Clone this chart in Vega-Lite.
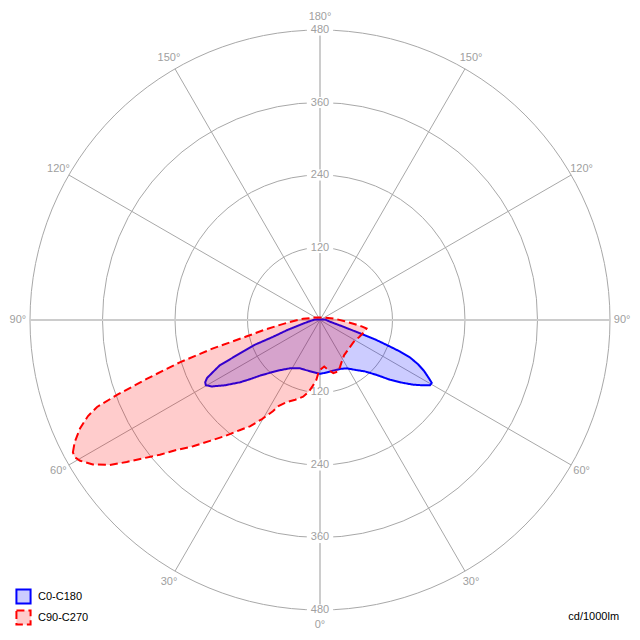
{
  "$schema": "https://vega.github.io/schema/vega-lite/v6.json",
  "width": 640,
  "height": 640,
  "padding": 0,
  "autosize": {"type": "none"},
  "background": "white",
  "datasets": {
    "rings": [{"r": 120}, {"r": 240}, {"r": 360}, {"r": 480}],
    "spokes": [
      {"x0": 0, "y0": 0, "x1": 240, "y1": -415.7},
      {"x0": 0, "y0": 0, "x1": -240, "y1": -415.7},
      {"x0": 0, "y0": 0, "x1": 415.7, "y1": -240},
      {"x0": 0, "y0": 0, "x1": -415.7, "y1": -240},
      {"x0": 0, "y0": 0, "x1": 415.7, "y1": 240},
      {"x0": 0, "y0": 0, "x1": -415.7, "y1": 240},
      {"x0": 0, "y0": 0, "x1": 240, "y1": 415.7},
      {"x0": 0, "y0": 0, "x1": -240, "y1": 415.7}
    ],
    "axes": [
      {"x0": 0, "y0": -480, "x1": 0, "y1": 480},
      {"x0": -480, "y0": 0, "x1": 480, "y1": 0}
    ],
    "valueLabels": [
      {"x": 0, "y": 120, "t": "120"}, {"x": 0, "y": 240, "t": "240"},
      {"x": 0, "y": 360, "t": "360"}, {"x": 0, "y": 480, "t": "480"},
      {"x": 0, "y": -120, "t": "120"}, {"x": 0, "y": -240, "t": "240"},
      {"x": 0, "y": -360, "t": "360"}, {"x": 0, "y": -480, "t": "480"}
    ],
    "angleLabels": [
      {"x": 0, "y": -505, "t": "0°"},
      {"x": 250, "y": -433, "t": "30°"}, {"x": -250, "y": -433, "t": "30°"},
      {"x": 433, "y": -250, "t": "60°"}, {"x": -433, "y": -250, "t": "60°"},
      {"x": 500, "y": 0, "t": "90°"}, {"x": -500, "y": 0, "t": "90°"},
      {"x": 433, "y": 250, "t": "120°"}, {"x": -433, "y": 250, "t": "120°"},
      {"x": 250, "y": 433, "t": "150°"}, {"x": -250, "y": 433, "t": "150°"},
      {"x": 0, "y": 502, "t": "180°"}
    ],
    "unit": [{"x": 495, "y": -491.6, "t": "cd/1000lm"}],
    "curves": [
      {"s": "C0-C180", "i": 1, "x": -8, "y": 1},
      {"s": "C0-C180", "i": 2, "x": 8, "y": 1},
      {"s": "C0-C180", "i": 3, "x": 17, "y": -3},
      {"s": "C0-C180", "i": 4, "x": 41, "y": -12},
      {"s": "C0-C180", "i": 5, "x": 66, "y": -22},
      {"s": "C0-C180", "i": 6, "x": 91, "y": -32},
      {"s": "C0-C180", "i": 7, "x": 116, "y": -44},
      {"s": "C0-C180", "i": 8, "x": 132, "y": -52},
      {"s": "C0-C180", "i": 9, "x": 149, "y": -62},
      {"s": "C0-C180", "i": 10, "x": 162, "y": -73},
      {"s": "C0-C180", "i": 11, "x": 172, "y": -84},
      {"s": "C0-C180", "i": 12, "x": 180, "y": -96},
      {"s": "C0-C180", "i": 13, "x": 185, "y": -104},
      {"s": "C0-C180", "i": 14, "x": 182, "y": -108},
      {"s": "C0-C180", "i": 15, "x": 170, "y": -108},
      {"s": "C0-C180", "i": 16, "x": 154, "y": -107},
      {"s": "C0-C180", "i": 17, "x": 137, "y": -104},
      {"s": "C0-C180", "i": 18, "x": 116, "y": -99},
      {"s": "C0-C180", "i": 19, "x": 94, "y": -91},
      {"s": "C0-C180", "i": 20, "x": 74, "y": -85},
      {"s": "C0-C180", "i": 21, "x": 61, "y": -83},
      {"s": "C0-C180", "i": 22, "x": 44, "y": -80},
      {"s": "C0-C180", "i": 23, "x": 33, "y": -81},
      {"s": "C0-C180", "i": 24, "x": 21, "y": -84},
      {"s": "C0-C180", "i": 25, "x": 11, "y": -87},
      {"s": "C0-C180", "i": 26, "x": 0, "y": -89},
      {"s": "C0-C180", "i": 27, "x": -12, "y": -86},
      {"s": "C0-C180", "i": 28, "x": -23, "y": -83},
      {"s": "C0-C180", "i": 29, "x": -33, "y": -80},
      {"s": "C0-C180", "i": 30, "x": -50, "y": -80},
      {"s": "C0-C180", "i": 31, "x": -66, "y": -83},
      {"s": "C0-C180", "i": 32, "x": -78, "y": -86},
      {"s": "C0-C180", "i": 33, "x": -99, "y": -92},
      {"s": "C0-C180", "i": 34, "x": -116, "y": -98},
      {"s": "C0-C180", "i": 35, "x": -132, "y": -103},
      {"s": "C0-C180", "i": 36, "x": -157, "y": -108},
      {"s": "C0-C180", "i": 37, "x": -179, "y": -110},
      {"s": "C0-C180", "i": 38, "x": -189, "y": -108},
      {"s": "C0-C180", "i": 39, "x": -190, "y": -103},
      {"s": "C0-C180", "i": 40, "x": -187, "y": -96},
      {"s": "C0-C180", "i": 41, "x": -182, "y": -91},
      {"s": "C0-C180", "i": 42, "x": -174, "y": -83},
      {"s": "C0-C180", "i": 43, "x": -166, "y": -75},
      {"s": "C0-C180", "i": 44, "x": -149, "y": -65},
      {"s": "C0-C180", "i": 45, "x": -132, "y": -55},
      {"s": "C0-C180", "i": 46, "x": -108, "y": -41},
      {"s": "C0-C180", "i": 47, "x": -78, "y": -28},
      {"s": "C0-C180", "i": 48, "x": -55, "y": -17},
      {"s": "C0-C180", "i": 49, "x": -33, "y": -8},
      {"s": "C0-C180", "i": 50, "x": -20, "y": -3},
      {"s": "C90-C270", "i": 1, "x": -409, "y": -219},
      {"s": "C90-C270", "i": 2, "x": -406, "y": -202},
      {"s": "C90-C270", "i": 3, "x": -397, "y": -179},
      {"s": "C90-C270", "i": 4, "x": -384, "y": -159},
      {"s": "C90-C270", "i": 5, "x": -369, "y": -144},
      {"s": "C90-C270", "i": 6, "x": -336, "y": -124},
      {"s": "C90-C270", "i": 7, "x": -286, "y": -97},
      {"s": "C90-C270", "i": 8, "x": -232, "y": -70},
      {"s": "C90-C270", "i": 9, "x": -177, "y": -47},
      {"s": "C90-C270", "i": 10, "x": -149, "y": -37},
      {"s": "C90-C270", "i": 11, "x": -121, "y": -27},
      {"s": "C90-C270", "i": 12, "x": -94, "y": -17},
      {"s": "C90-C270", "i": 13, "x": -66, "y": -8},
      {"s": "C90-C270", "i": 14, "x": -45, "y": -2},
      {"s": "C90-C270", "i": 15, "x": -28, "y": 2},
      {"s": "C90-C270", "i": 16, "x": -8, "y": 4},
      {"s": "C90-C270", "i": 17, "x": 8, "y": 4},
      {"s": "C90-C270", "i": 18, "x": 25, "y": 2},
      {"s": "C90-C270", "i": 19, "x": 41, "y": -2},
      {"s": "C90-C270", "i": 20, "x": 58, "y": -7},
      {"s": "C90-C270", "i": 21, "x": 70, "y": -11},
      {"s": "C90-C270", "i": 22, "x": 77, "y": -14},
      {"s": "C90-C270", "i": 23, "x": 73, "y": -20},
      {"s": "C90-C270", "i": 24, "x": 65, "y": -28},
      {"s": "C90-C270", "i": 25, "x": 56, "y": -36},
      {"s": "C90-C270", "i": 26, "x": 48, "y": -47},
      {"s": "C90-C270", "i": 27, "x": 40, "y": -58},
      {"s": "C90-C270", "i": 28, "x": 36, "y": -69},
      {"s": "C90-C270", "i": 29, "x": 33, "y": -78},
      {"s": "C90-C270", "i": 30, "x": 30, "y": -85},
      {"s": "C90-C270", "i": 31, "x": 22, "y": -88},
      {"s": "C90-C270", "i": 32, "x": 13, "y": -82},
      {"s": "C90-C270", "i": 33, "x": 7, "y": -77},
      {"s": "C90-C270", "i": 34, "x": 2, "y": -81},
      {"s": "C90-C270", "i": 35, "x": -3, "y": -89},
      {"s": "C90-C270", "i": 36, "x": -6, "y": -99},
      {"s": "C90-C270", "i": 37, "x": -12, "y": -109},
      {"s": "C90-C270", "i": 38, "x": -18, "y": -118},
      {"s": "C90-C270", "i": 39, "x": -28, "y": -127},
      {"s": "C90-C270", "i": 40, "x": -41, "y": -132},
      {"s": "C90-C270", "i": 41, "x": -55, "y": -136},
      {"s": "C90-C270", "i": 42, "x": -68, "y": -142},
      {"s": "C90-C270", "i": 43, "x": -78, "y": -151},
      {"s": "C90-C270", "i": 44, "x": -96, "y": -164},
      {"s": "C90-C270", "i": 45, "x": -116, "y": -176},
      {"s": "C90-C270", "i": 46, "x": -132, "y": -182},
      {"s": "C90-C270", "i": 47, "x": -157, "y": -192},
      {"s": "C90-C270", "i": 48, "x": -182, "y": -200},
      {"s": "C90-C270", "i": 49, "x": -210, "y": -209},
      {"s": "C90-C270", "i": 50, "x": -237, "y": -215},
      {"s": "C90-C270", "i": 51, "x": -265, "y": -223},
      {"s": "C90-C270", "i": 52, "x": -293, "y": -229},
      {"s": "C90-C270", "i": 53, "x": -320, "y": -235},
      {"s": "C90-C270", "i": 54, "x": -348, "y": -240},
      {"s": "C90-C270", "i": 55, "x": -376, "y": -239},
      {"s": "C90-C270", "i": 56, "x": -397, "y": -233},
      {"s": "C90-C270", "i": 57, "x": -406, "y": -227}
    ]
  },
  "layer": [
    {
      "data": {"name": "rings"},
      "mark": {"type": "arc", "theta": 0, "theta2": 6.2832, "filled": false, "fill": null, "stroke": "#a8a8a8", "strokeWidth": 1},
      "encoding": {
        "radius": {"field": "r", "type": "quantitative", "stack": null, "scale": {"type": "linear", "domain": [0, 529.66], "range": [0, 320]}}
      }
    },
    {
      "data": {"name": "axes"},
      "mark": {"type": "rule", "stroke": "#cccccc", "strokeWidth": 2},
      "encoding": {
        "x": {"field": "x0", "type": "quantitative", "scale": {"domain": [-529.66, 529.66], "nice": false, "zero": false}, "axis": null},
        "y": {"field": "y0", "type": "quantitative", "scale": {"domain": [-529.66, 529.66], "nice": false, "zero": false}, "axis": null},
        "x2": {"field": "x1"},
        "y2": {"field": "y1"}
      }
    },
    {
      "data": {"name": "spokes"},
      "mark": {"type": "rule", "stroke": "#a8a8a8", "strokeWidth": 1},
      "encoding": {
        "x": {"field": "x0", "type": "quantitative", "axis": null},
        "y": {"field": "y0", "type": "quantitative", "axis": null},
        "x2": {"field": "x1"},
        "y2": {"field": "y1"}
      }
    },
    {
      "data": {"name": "valueLabels"},
      "mark": {"type": "point", "shape": "M-1,-0.42L1,-0.42L1,0.42L-1,0.42Z", "filled": true, "fill": "white", "stroke": null, "opacity": 1, "size": 700},
      "encoding": {
        "x": {"field": "x", "type": "quantitative", "axis": null},
        "y": {"field": "y", "type": "quantitative", "axis": null}
      }
    },
    {
      "data": {"name": "valueLabels"},
      "mark": {"type": "text", "fontSize": 11, "color": "#a0a0a0", "align": "center", "baseline": "middle"},
      "encoding": {
        "x": {"field": "x", "type": "quantitative", "axis": null},
        "y": {"field": "y", "type": "quantitative", "axis": null},
        "text": {"field": "t"}
      }
    },
    {
      "data": {"name": "angleLabels"},
      "mark": {"type": "text", "fontSize": 11, "color": "#a0a0a0", "align": "center", "baseline": "middle"},
      "encoding": {
        "x": {"field": "x", "type": "quantitative", "axis": null},
        "y": {"field": "y", "type": "quantitative", "axis": null},
        "text": {"field": "t"}
      }
    },
    {
      "data": {"name": "curves"},
      "mark": {"type": "line", "interpolate": "linear-closed", "strokeWidth": 2, "fillOpacity": 1},
      "encoding": {
        "x": {"field": "x", "type": "quantitative", "axis": null},
        "y": {"field": "y", "type": "quantitative", "axis": null},
        "order": {"field": "i", "type": "quantitative"},
        "detail": {"field": "s"},
        "stroke": {"field": "s", "type": "nominal", "title": null, "scale": {"domain": ["C0-C180", "C90-C270"], "range": ["#0000ff", "#ff0000"]}},
        "fill": {"field": "s", "type": "nominal", "title": null, "scale": {"domain": ["C0-C180", "C90-C270"], "range": ["rgba(0,0,255,0.2)", "rgba(255,0,0,0.2)"]}},
        "strokeDash": {"field": "s", "type": "nominal", "title": null, "scale": {"domain": ["C0-C180", "C90-C270"], "range": [[1, 0], [8, 4]]}}
      }
    },
    {
      "data": {"name": "unit"},
      "mark": {"type": "text", "fontSize": 11, "color": "#000000", "align": "right", "baseline": "middle"},
      "encoding": {
        "x": {"field": "x", "type": "quantitative", "axis": null},
        "y": {"field": "y", "type": "quantitative", "axis": null},
        "text": {"field": "t"}
      }
    }
  ],
  "config": {
    "view": {"stroke": null},
    "font": "Liberation Sans",
    "legend": {
      "orient": "none",
      "legendX": 15,
      "legendY": 588,
      "padding": 0,
      "symbolType": "square",
      "symbolSize": 200,
      "symbolStrokeWidth": 2,
      "symbolOpacity": 1,
      "labelFont": "Liberation Sans",
      "labelFontSize": 11,
      "labelColor": "#000000",
      "labelOffset": 6,
      "rowPadding": -2
    }
  }
}
